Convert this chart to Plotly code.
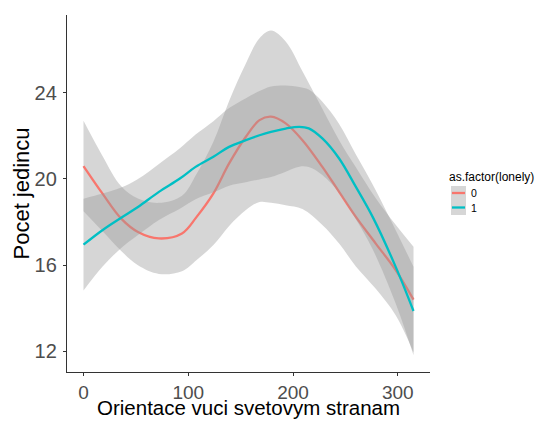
import plotly.graph_objects as go

# ---- data ----
x_red = [0, 18, 36, 52, 72, 94, 108, 124, 139, 155, 168, 179, 193, 209, 228, 244, 260, 279, 298, 315]
y_red = [20.6, 19.33, 18.16, 17.54, 17.24, 17.47, 18.24, 19.33, 20.72, 21.96, 22.73, 22.89, 22.58, 21.8, 20.56, 19.4, 18.24, 17.0, 15.77, 14.4]
se_red = [2.1, 1.75, 1.5, 1.55, 1.65, 1.75, 2.0, 2.4, 2.9, 3.4, 3.8, 4.0, 3.8, 3.2, 2.7, 2.4, 2.3, 2.1, 2.1, 2.45]

x_cyan = [0, 18, 36, 52, 72, 92, 107, 124, 139, 155, 168, 179, 193, 206, 215, 228, 244, 260, 276, 298, 315]
y_cyan = [16.95, 17.62, 18.2, 18.7, 19.4, 20.02, 20.56, 21.03, 21.49, 21.8, 22.03, 22.19, 22.34, 22.42, 22.35, 21.88, 20.95, 19.63, 18.24, 15.92, 13.87]
se_cyan = [2.13, 1.7, 1.4, 1.3, 1.3, 1.4, 1.5, 1.65, 1.8, 1.95, 2.05, 2.1, 2.0, 1.85, 1.8, 1.7, 1.6, 1.5, 1.5, 1.7, 2.05]

groups = ["0", "1"]
colors = ["#F8766D", "#00BFC4"]
x_ticks = [0, 100, 200, 300]
y_ticks = [12, 16, 20, 24]
x_title = "Orientace vuci svetovym stranam"
y_title = "Pocet jedincu"
legend_title = "as.factor(lonely)"

RIBBON = "rgba(153,153,153,0.4)"
FONT = "Liberation Sans, Arial, sans-serif"

fig = go.Figure()
series = [(x_red, y_red, se_red), (x_cyan, y_cyan, se_cyan)]
for (xs, ys, se), col in zip(series, colors):
    lo = [y - s for y, s in zip(ys, se)]
    hi = [y + s for y, s in zip(ys, se)]
    fig.add_trace(go.Scatter(x=xs, y=lo, mode="lines", line=dict(width=0, shape="spline", smoothing=1.0),
                             showlegend=False, hoverinfo="skip"))
    fig.add_trace(go.Scatter(x=xs, y=hi, mode="lines", line=dict(width=0, shape="spline", smoothing=1.0),
                             fill="tonexty", fillcolor=RIBBON, showlegend=False, hoverinfo="skip"))
    fig.add_trace(go.Scatter(x=xs, y=ys, mode="lines", line=dict(color=col, width=2.3, shape="spline", smoothing=1.0),
                             showlegend=False))

axis_common = dict(showline=True, linecolor="#333333", linewidth=1.3, ticks="outside", ticklen=3,
                   tickcolor="#333333", tickwidth=1.2, showgrid=False, zeroline=False, automargin=False)

fig.update_xaxes(range=[-15.75, 330.75], tickvals=x_ticks, ticktext=[str(t) for t in x_ticks],
                 ticklabelstandoff=0, tickfont=dict(family=FONT, size=19, color="#4d4d4d"), **axis_common)
fig.update_yaxes(range=[11.04, 27.61], tickvals=y_ticks, ticktext=[str(t) for t in y_ticks],
                 ticklabelstandoff=2, tickfont=dict(family=FONT, size=20, color="#4d4d4d"), **axis_common)

# ---- layout helpers (pixel -> paper) ----
L, R, T, B = 67, 430, 15, 372
def xp(px):
    return (px - L) / (R - L)
def yp(py):
    return (B - py) / (B - T)

annotations = [
    dict(text=x_title, xref="paper", yref="paper", x=0.5, y=yp(421), xanchor="center", yanchor="bottom",
         showarrow=False, font=dict(family=FONT, size=20.5, color="black")),
    dict(text=y_title, xref="paper", yref="paper", x=xp(21), y=0.5, xanchor="center", yanchor="middle",
         textangle=-90, showarrow=False, font=dict(family=FONT, size=22, color="black")),
    dict(text=legend_title, xref="paper", yref="paper", x=xp(447), y=yp(177),
         xanchor="left", yanchor="middle", showarrow=False, font=dict(family=FONT, size=12, color="black")),
]
shapes = [dict(type="rect", xref="paper", yref="paper", x0=xp(451), x1=xp(466), y0=yp(215), y1=yp(186),
               fillcolor="#d6d6d6", line=dict(width=0), layer="above")]
for i, (g, col) in enumerate(zip(groups, colors)):
    cy = 193 + i * 14.5
    shapes.append(dict(type="line", xref="paper", yref="paper", x0=xp(452), x1=xp(465), y0=yp(cy), y1=yp(cy),
                       line=dict(color=col, width=2.3), layer="above"))
    annotations.append(dict(text=g, xref="paper", yref="paper", x=xp(469), y=yp(cy), xanchor="left",
                            yanchor="middle", showarrow=False, font=dict(family=FONT, size=10.5, color="black")))

fig.update_layout(width=541, height=421, margin=dict(l=L, r=541 - R, t=T, b=421 - B),
                  paper_bgcolor="white", plot_bgcolor="white", showlegend=False,
                  shapes=shapes, annotations=annotations)

fig.write_html("out.html")
